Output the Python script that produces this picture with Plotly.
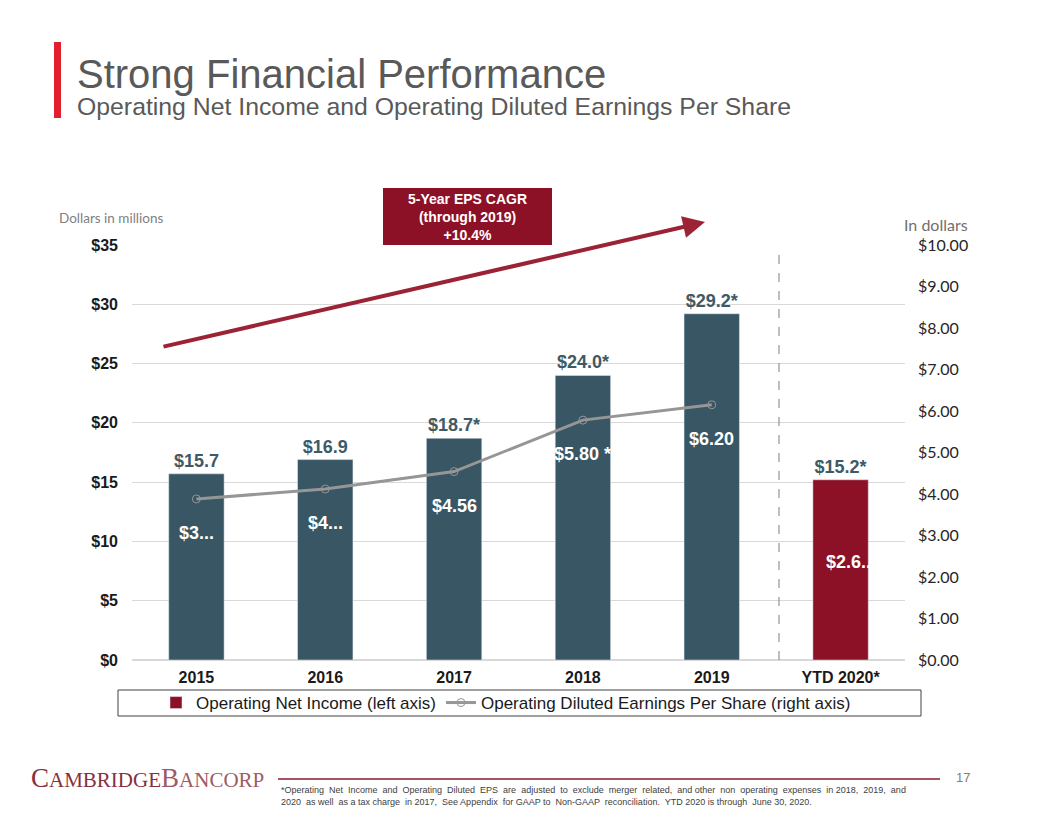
import plotly.graph_objects as go

# ---------------- data ----------------
categories = ["2015", "2016", "2017", "2018", "2019", "YTD 2020*"]
net_income = [15.7, 16.9, 18.7, 24.0, 29.2, 15.2]
net_income_labels = ["$15.7", "$16.9", "$18.7*", "$24.0*", "$29.2*", "$15.2*"]
eps_categories = ["2015", "2016", "2017", "2018", "2019"]
eps_values = [3.88, 4.12, 4.54, 5.78, 6.15]
eps_labels = ["$3...", "$4...", "$4.56", "$5.80 *", "$6.20"]
ytd_eps_value = 2.63
ytd_eps_label = "$2.6.."
left_ticks = [0, 5, 10, 15, 20, 25, 30, 35]
left_tick_text = ["$0", "$5", "$10", "$15", "$20", "$25", "$30", "$35"]
right_ticks = [0, 1, 2, 3, 4, 5, 6, 7, 8, 9, 10]
right_tick_text = ["$0.00", "$1.00", "$2.00", "$3.00", "$4.00", "$5.00",
                   "$6.00", "$7.00", "$8.00", "$9.00", "$10.00"]

# ---------------- styling ----------------
OFF = 8  # page body margin
W, H = 1056 - OFF, 816 - OFF
PL, PR, PT, PB = 132, 905, 245, 660  # plot area in window pixels
SLATE = "#385663"
RED = "#8c1127"
GRAY_LINE = "#969696"
SANS = "Liberation Sans, Arial"

idx = {c: i for i, c in enumerate(categories)}
bar_x = [idx[c] for c in categories]
eps_x = [idx[c] for c in eps_categories]


def px(x):
    return (x - PL) / (PR - PL)


def py(y):
    return (PB - y) / (PB - PT)


fig = go.Figure()

fig.add_trace(go.Bar(
    x=bar_x[:5], y=net_income[:5], text=net_income_labels[:5],
    textposition="outside", cliponaxis=False,
    textfont=dict(family=SANS, size=18, color="#3e5a66", weight="bold"),
    marker=dict(color=SLATE), width=0.43, showlegend=False, yaxis="y",
))
fig.add_trace(go.Bar(
    x=bar_x[5:], y=net_income[5:], text=net_income_labels[5:],
    textposition="outside", cliponaxis=False,
    textfont=dict(family=SANS, size=18, color="#3e5a66", weight="bold"),
    marker=dict(color=RED), width=0.43, name="Operating Net Income (left axis)",
    yaxis="y",
))
fig.add_trace(go.Scatter(
    x=eps_x, y=eps_values, mode="lines+markers",
    line=dict(color=GRAY_LINE, width=3),
    marker=dict(symbol="circle", size=8, color="rgba(0,0,0,0)",
                line=dict(color=GRAY_LINE, width=1)),
    name="Operating Diluted Earnings Per Share (right axis)", yaxis="y2",
))

# EPS labels inside bars
for xv, v, t in zip(eps_x, eps_values, eps_labels):
    fig.add_annotation(x=xv, y=v, xref="x", yref="y2", text=t, showarrow=False,
                       xanchor="center", yanchor="middle",
                       yshift=-34, font=dict(family=SANS, size=18, color="white", weight="bold"))
fig.add_annotation(x=idx[categories[5]], y=ytd_eps_value, xref="x", yref="y2", text=ytd_eps_label,
                   showarrow=False, yshift=-11, xshift=8, xanchor="center", yanchor="middle",
                   font=dict(family=SANS, size=18, color="white", weight="bold"))

# dashed separator
fig.add_shape(type="line", xref="paper", yref="paper", x0=px(779), x1=px(779),
              y0=0, y1=py(251), line=dict(color="#7f7f7f", width=1, dash="dash"))

# CAGR arrow
fig.add_annotation(xref="paper", yref="paper", axref="pixel", ayref="pixel",
                   x=px(705), y=py(222), ax=162 - 705, ay=347 - 222, text="",
                   showarrow=True, arrowhead=2, arrowsize=1.1, arrowwidth=4,
                   arrowcolor="#9b2335")

# CAGR box
fig.add_shape(type="rect", xref="paper", yref="paper", x0=px(383), x1=px(552),
              y0=py(245), y1=py(188), fillcolor=RED, line=dict(width=0))
fig.add_annotation(xref="paper", yref="paper", x=px(467.5), y=py(216.5),
                   xanchor="center", yanchor="middle",
                   text="5-Year EPS CAGR<br>(through 2019)<br>+10.4%", showarrow=False,
                   font=dict(family=SANS, size=14, color="white", weight="bold"),
                   align="center")

# axis captions
fig.add_annotation(xref="paper", yref="paper", x=px(57), y=py(218), xanchor="left",
                   yanchor="middle", text="Dollars in millions", showarrow=False,
                   font=dict(family="Lato, Open Sans", size=13.5, color="#808080"))
fig.add_annotation(xref="paper", yref="paper", x=px(902), y=py(224), xanchor="left",
                   yanchor="middle", text="In dollars", showarrow=False,
                   font=dict(family="Lato, Open Sans", size=16, color="#707070"))

# legend box
fig.add_shape(type="rect", xref="paper", yref="paper", x0=px(118), x1=px(921),
              y0=py(716), y1=py(690), line=dict(color="#404040", width=1), fillcolor="rgba(0,0,0,0)")

# title
fig.add_shape(type="rect", xref="paper", yref="paper", x0=px(54), x1=px(61),
              y0=py(118), y1=py(42), fillcolor="#e0202e", line=dict(width=0))
fig.add_annotation(xref="paper", yref="paper", x=px(75), y=py(74), xanchor="left",
                   yanchor="middle", text="Strong Financial Performance", showarrow=False,
                   font=dict(family=SANS, size=40, color="#595959"))
fig.add_annotation(xref="paper", yref="paper", x=px(75), y=py(107), xanchor="left",
                   yanchor="middle",
                   text="Operating Net Income and Operating Diluted Earnings Per Share",
                   showarrow=False, font=dict(family=SANS, size=24.8, color="#595959"))

# footer
fig.add_annotation(xref="paper", yref="paper", x=px(29), y=py(778), xanchor="left",
                   yanchor="middle",
                   text="<span style='font-size:27px'>C</span>AMBRIDGE<span style='font-size:27px;color:#9e5a66'>B</span><span style='color:#9e5a66'>ANCORP</span>",
                   showarrow=False, font=dict(family="Liberation Serif, DejaVu Serif", size=21, color="#86303f"))
fig.add_shape(type="line", xref="paper", yref="paper", x0=px(278), x1=px(940),
              y0=py(779), y1=py(779), line=dict(color="#8b1a2e", width=1.5))
fig.add_annotation(xref="paper", yref="paper", x=px(972), y=py(777), xanchor="right",
                   yanchor="middle", text="17", showarrow=False,
                   font=dict(family=SANS, size=13, color="#808080"))
fig.add_annotation(xref="paper", yref="paper", x=px(279), y=py(796), xanchor="left",
                   yanchor="middle", align="left", showarrow=False,
                   text="*Operating  Net  Income  and  Operating  Diluted  EPS  are  adjusted  to  exclude  merger  related,  and other  non  operating  expenses  in 2018,  2019,  and<br>2020  as well  as a tax charge  in 2017,  See Appendix  for GAAP to  Non-GAAP  reconciliation.  YTD 2020 is through  June 30, 2020.",
                   font=dict(family=SANS, size=9, color="#404040"))

fig.update_layout(
    width=W, height=H,
    margin=dict(l=PL - OFF, r=1056 - PR, t=PT - OFF, b=816 - PB),
    paper_bgcolor="white", plot_bgcolor="white",
    barmode="overlay",
    xaxis=dict(range=[-0.5, len(categories) - 0.5], tickvals=bar_x, ticktext=categories,
               showgrid=False, showline=False, zeroline=False, ticks="",
               ticklabelstandoff=6,
               tickfont=dict(family=SANS, size=16, color="#1a1a1a", weight="bold")),
    yaxis=dict(range=[0, 35], tickvals=left_ticks, ticktext=left_tick_text,
               showgrid=True, gridcolor="#d9d9d9", gridwidth=1, zeroline=True,
               zerolinecolor="#d9d9d9", ticklabelstandoff=13,
               tickfont=dict(family=SANS, size=16, color="#1a1a1a", weight="bold")),
    yaxis2=dict(range=[0, 10], tickvals=right_ticks, ticktext=right_tick_text,
                overlaying="y", side="right", showgrid=False, zeroline=False,
                ticklabelstandoff=12,
                tickfont=dict(family="Lato, Open Sans", size=16, color="#262626")),
    legend=dict(orientation="h", x=px(506), y=py(703), xanchor="center", yanchor="middle",
                font=dict(family=SANS, size=17, color="#1a1a1a"),
                bgcolor="rgba(0,0,0,0)", itemwidth=30, traceorder="normal"),
    showlegend=True,
)

fig.write_html("out.html")
